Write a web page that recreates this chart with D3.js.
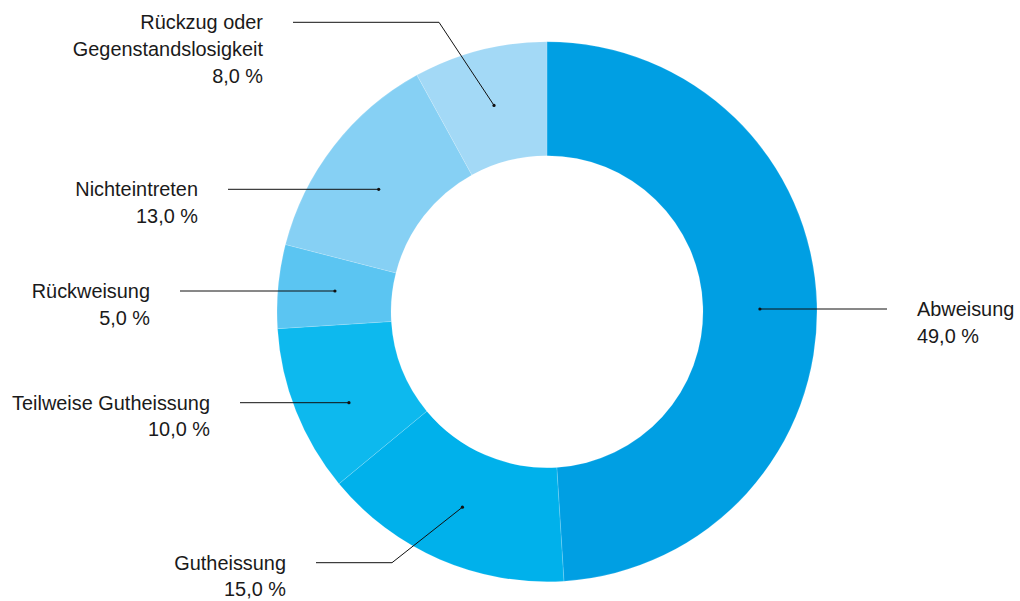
<!DOCTYPE html>
<html>
<head>
<meta charset="utf-8">
<script src="https://cdn.jsdelivr.net/npm/d3@7"></script>
<style>
  html, body { margin: 0; padding: 0; background: #fff; }
  svg { display: block; }
  text { font-family: "Liberation Sans", Arial, Helvetica, sans-serif; fill: #1a1a1a; }
</style>
</head>
<body>
<svg id="chart" width="1020" height="601"></svg>
<script>
// ---- data ----
const categories = ["Abweisung", "Gutheissung", "Teilweise Gutheissung", "Rückweisung", "Nichteintreten", "Rückzug oder Gegenstandslosigkeit"];
const labelLines = [["Abweisung"], ["Gutheissung"], ["Teilweise Gutheissung"], ["Rückweisung"], ["Nichteintreten"], ["Rückzug oder", "Gegenstandslosigkeit"]];
const values = [49, 15, 10, 5, 13, 8];
const colors = ["#009fe3", "#00b1eb", "#0db9ee", "#5bc5f2", "#86d0f4", "#a3d9f6"];

// ---- layout (label placement) ----
const labelLayout = [
  { side: 1,  lineY: 309,   endX: 887 },
  { side: -1, lineY: 562.7, endX: 316, elbowX: 392 },
  { side: -1, lineY: 402.7, endX: 240 },
  { side: -1, lineY: 291,   endX: 180 },
  { side: -1, lineY: 189.3, endX: 228 },
  { side: -1, lineY: 22.3,  endX: 293, elbowX: 439 }
];

const cx = 547, cy = 311.7, rOuter = 270, rInner = 156;
const fontSize = 19.9, lineGap = 26.7;

const svg = d3.select("#chart");
const g = svg.append("g").attr("transform", `translate(${cx},${cy})`);

const data = categories.map((c, i) => ({ name: c, value: values[i], i }));
const pie = d3.pie().value(d => d.value).sort(null);
const arcs = pie(data);
const arc = d3.arc().innerRadius(rInner).outerRadius(rOuter);

g.selectAll("path.slice")
  .data(arcs)
  .enter().append("path")
  .attr("class", "slice")
  .attr("d", arc)
  .attr("fill", d => colors[d.data.i])
  .attr("stroke", "rgba(255,255,255,0.25)")
  .attr("stroke-width", 0.6);

const fmt = v => d3.format(".1f")(v).replace(".", ",") + " %";

const lab = svg.append("g");
arcs.forEach(a => {
  const i = a.data.i;
  const L = labelLayout[i];
  const c = arc.centroid(a);
  let dotX = cx + c[0], dotY;
  let pts;
  if (L.elbowX !== undefined) {
    dotY = cy + c[1];
    pts = [[dotX, dotY], [L.elbowX, L.lineY], [L.endX, L.lineY]];
  } else {
    dotY = L.lineY;
    pts = [[dotX, dotY], [L.endX, L.lineY]];
  }
  lab.append("path")
    .attr("d", d3.line()(pts))
    .attr("fill", "none")
    .attr("stroke", "#111")
    .attr("stroke-width", 1);
  lab.append("circle")
    .attr("cx", dotX).attr("cy", dotY).attr("r", 1.6)
    .attr("fill", "#111");

  const lines = labelLines[i].concat([fmt(values[i])]);
  const tx = L.endX + L.side * 30;
  lines.forEach((s, k) => {
    lab.append("text")
      .attr("x", tx)
      .attr("y", L.lineY + 7 + k * lineGap)
      .attr("text-anchor", L.side === 1 ? "start" : "end")
      .style("font-size", fontSize + "px")
      .text(s);
  });
});
</script>
</body>
</html>
